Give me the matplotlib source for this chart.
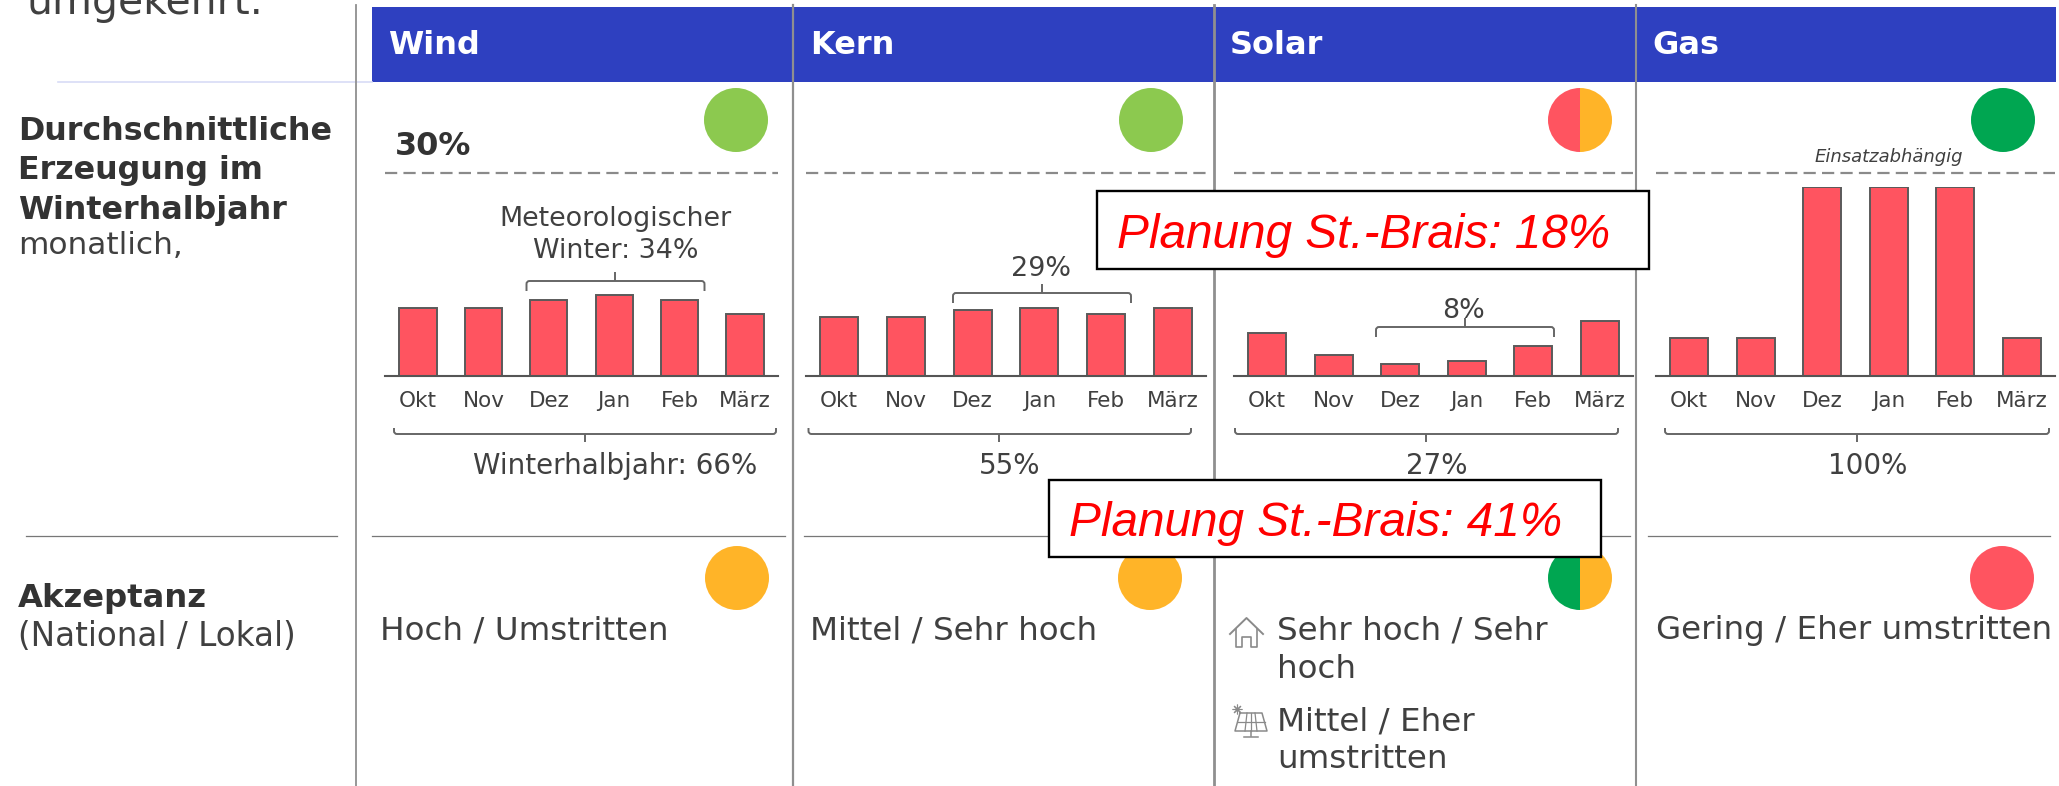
import matplotlib
matplotlib.use("Agg")
import matplotlib.pyplot as plt
from matplotlib.patches import Circle, Wedge, Rectangle, PathPatch
from matplotlib.path import Path

months = ["Okt", "Nov", "Dez", "Jan", "Feb", "März"]
titles = ["Wind", "Kern", "Solar", "Gas"]
wind_vals = [36, 36, 40, 43, 40, 33]
kern_vals = [31, 31, 35, 36, 33, 36]
solar_vals = [23, 11, 6.5, 8, 16, 29]
gas_vals = [20, 20, 100, 100, 100, 20]
series = [wind_vals, kern_vals, solar_vals, gas_vals]
half_year = ["Winterhalbjahr: 66%", "55%", "27%", "100%"]
winter = ["Meteorologischer\nWinter: 34%", "29%", "8%", None]
accept = ["Hoch / Umstritten", "Mittel / Sehr hoch", None, "Gering / Eher umstritten"]

W, H = 2059, 786
txt = "#404040"
blue = "#2E40C0"
red = "#FF5460"
amber = "#FFB428"
lgreen = "#8CC94F"
dgreen = "#00A651"
grey = "#8a8a8a"

# pixel layout of the four columns
left = [385, 806, 1234, 1656]
right = [778, 1206, 1633, 2055]
first = [418, 839, 1267, 1689]
step = [65.4, 66.8, 66.6, 66.6]
base_y, top_y = 376, 187

plt.rcParams["font.family"] = "DejaVu Sans"
fig = plt.figure(figsize=(W / 100, H / 100), dpi=100)


def overlay(z):
    a = fig.add_axes([0, 0, 1, 1], zorder=z)
    a.set_xlim(0, W)
    a.set_ylim(H, 0)
    a.axis("off")
    a.patch.set_alpha(0)
    return a


bg = overlay(0)
top = overlay(3)

# header band and column rules
bg.add_patch(Rectangle((372, 7), 2056 - 372, 75, color=blue, lw=0))
bg.plot([58, 372], [82, 82], color="#d8dcf6", lw=1.2)
for x, lw in zip([356, 793, 1214, 1636], [1.3, 1.6, 2.0, 1.5]):
    bg.plot([x, x], [5, H], color="#8f8f8f", lw=lw, zorder=2)
for t, x in zip(titles, [388, 810, 1230, 1652]):
    bg.text(x, 46, t, color="white", fontsize=23, fontweight="bold", va="center", zorder=3)

# left column
bg.text(27, 14, "umgekehrt.", color=txt, fontsize=29.5, va="baseline")
for i, s in enumerate(["Durchschnittliche", "Erzeugung im", "Winterhalbjahr"]):
    bg.text(18, 132 + i * 39, s, color="#333333", fontsize=22.9, fontweight="bold", va="center")
bg.text(18, 246, "monatlich,", color=txt, fontsize=22.5, va="center")
bg.text(18, 599, "Akzeptanz", color="#333333", fontsize=23.2, fontweight="bold", va="center")
bg.text(18, 637, "(National / Lokal)", color=txt, fontsize=23.5, va="center")

bg.text(395, 155, "30%", color="#333333", fontsize=23, fontweight="bold", va="baseline")
bg.text(1889, 157, "Einsatzabhängig", color=txt, fontsize=13, style="italic", ha="center", va="center")

# dashed rules and row separators
for a, b in zip(left, right):
    bg.plot([a, b], [172.5, 172.5], color=grey, lw=1.6, dashes=(5.5, 2.8))
for a, b in [(26, 337), (372, 785), (804, 1205), (1218, 1630), (1648, 2050)]:
    bg.plot([a, b], [536, 536], color="#777777", lw=0.9)


def dot(x, y, c1, c2=None):
    if c2 is None:
        bg.add_patch(Circle((x, y), 32, color=c1, lw=0, zorder=3))
    else:
        # y axis is flipped, so the wedge angles run the other way round
        bg.add_patch(Wedge((x, y), 32, 90, 270, color=c1, lw=0, zorder=3))
        bg.add_patch(Wedge((x, y), 32, 270, 90, color=c2, lw=0, zorder=3))


dot(736, 120, lgreen)
dot(1151, 120, lgreen)
dot(1580, 120, red, amber)
dot(2003, 120, dgreen)
dot(737, 578, amber)
dot(1150, 578, amber)
dot(1580, 578, dgreen, amber)
dot(2002, 578, red)

# bar panels
for i, vals in enumerate(series):
    ax = fig.add_axes([left[i] / W, 1 - base_y / H, (right[i] - left[i]) / W, (base_y - top_y) / H], zorder=1)
    ax.patch.set_alpha(0)
    ax.bar(range(6), vals, width=0.57, color=red, edgecolor="#5a5a5a", linewidth=1.4)
    ax.set_xlim((left[i] - first[i]) / step[i], (right[i] - first[i]) / step[i])
    ax.set_ylim(0, 100)
    ax.set_yticks([])
    ax.set_xticks(range(6), months)
    ax.tick_params(axis="x", length=0, pad=10.5, labelsize=15.5, labelcolor=txt)
    for k in ["top", "left", "right"]:
        ax.spines[k].set_visible(False)
    ax.spines["bottom"].set_color("#555555")
    ax.spines["bottom"].set_linewidth(1.5)


def bracket(x0, x1, y, xc, up):
    # up: legs hang down and the centre tick points up, else the other way round
    leg, tick = (10, -9) if up else (-6, 8)
    r = 3 if up else -3
    verts = [(x0, y + leg), (x0, y + r), (x0, y), (x0 + abs(r), y), (x1 - abs(r), y), (x1, y), (x1, y + r), (x1, y + leg),
             (xc, y), (xc, y + tick)]
    codes = [Path.MOVETO, Path.LINETO, Path.CURVE3, Path.CURVE3, Path.LINETO, Path.CURVE3, Path.CURVE3, Path.LINETO,
             Path.MOVETO, Path.LINETO]
    bg.add_patch(PathPatch(Path(verts, codes), fc="none", ec="#666666", lw=1.4, zorder=2))


bracket(526.5, 704.5, 281, 615, True)
bracket(953, 1131, 293, 1042, True)
bracket(1376, 1554, 327, 1465, True)
bracket(394, 776, 434, 585, False)
bracket(808.5, 1191, 434, 999, False)
bracket(1235, 1618, 434, 1426, False)
bracket(1665, 2049, 434, 1857, False)

for s, x, y in zip(winter[:3], [616, 1041, 1463.5], [235, 269, 311]):
    bg.text(x, y, s, color=txt, fontsize=19.4, ha="center", va="center", linespacing=1.35)
for s, x in zip(half_year, [615, 1010, 1437, 1868]):
    bg.text(x, 466, s, color=txt, fontsize=20, ha="center", va="center")

# acceptance row
for s, x in zip(accept, [380, 810, None, 1656]):
    if s:
        bg.text(x, 631, s, color=txt, fontsize=23.4, va="center")
for s, y in zip(["Sehr hoch / Sehr", "hoch", "Mittel / Eher", "umstritten"], [631, 669, 722, 760]):
    bg.text(1277, y, s, color=txt, fontsize=23.4, va="center")

icon = "#8a8a8a"
# house
bg.plot([1230, 1246.5, 1263], [634, 618, 634], color=icon, lw=1.4)
bg.plot([1236, 1236, 1242, 1242, 1251, 1251, 1257, 1257], [629, 647, 647, 637, 637, 647, 647, 629], color=icon, lw=1.2)
# solar panel
bg.plot([1240, 1262, 1267, 1235, 1240], [713, 713, 731, 731, 713], color=icon, lw=1.1)
bg.plot([1237.5, 1264.5], [722, 722], color=icon, lw=0.9)
for a, b in [(1247, 1245), (1251, 1251), (1255, 1257)]:
    bg.plot([a, b], [713, 731], color=icon, lw=0.9)
bg.plot([1251, 1251], [731, 736], color=icon, lw=1.1)
bg.plot([1244, 1258], [737, 737], color=icon, lw=1.1)
bg.plot([1237], [709], marker=(8, 2, 0), ms=7, color=icon, mew=0.8)

# planning call-outs on top of everything
for (x0, y0, x1, y1), s, tx, by in [((1097, 191, 1649, 268.5), "Planung St.-Brais: 18%", 1117, 247.5),
                                    ((1049, 480, 1601, 557), "Planung St.-Brais: 41%", 1069, 536)]:
    top.add_patch(Rectangle((x0, y0), x1 - x0, y1 - y0, fc="white", ec="black", lw=1.7))
    top.text(tx, by, s, color="#FF0000", fontsize=34.4, style="italic", family="Liberation Sans", va="baseline")

fig.savefig("out.png", dpi=100)
